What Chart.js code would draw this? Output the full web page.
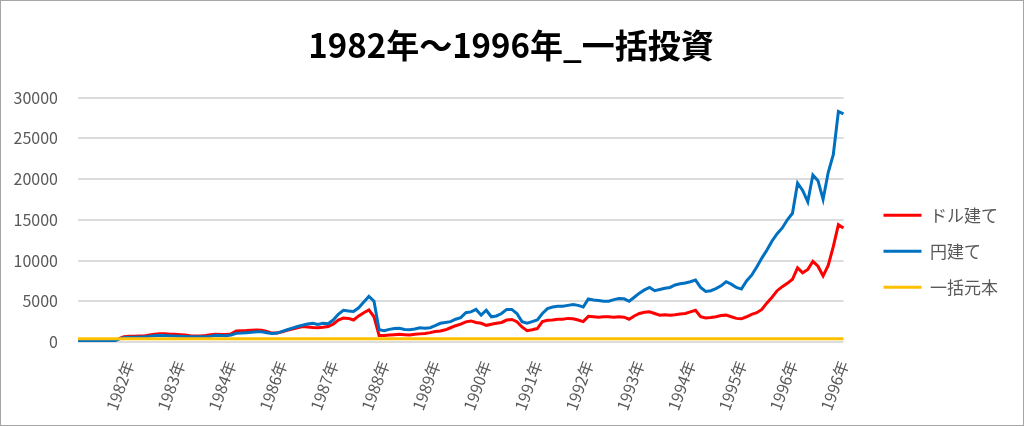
<!DOCTYPE html>
<html lang="ja">
<head>
<meta charset="utf-8">
<title>1982年～1996年_一括投資</title>
<script src="https://cdn.jsdelivr.net/npm/chart.js@4.4.0/dist/chart.umd.min.js"></script>
<style>
    html, body { margin: 0; padding: 0; background: #fff; }
    #wrap { width: 1024px; height: 426px; box-sizing: border-box; border: 1px solid #a6a6a6; }
</style>
</head>
<body>
<div id="wrap"><canvas id="myChart"></canvas></div>
<script>
const TITLE = '1982年～1996年_一括投資';

// year labels shown on the x axis, one every TICK_EVERY points
const yearTicks = ['1982年', '1983年', '1984年', '1986年', '1987年', '1988年', '1989年', '1990年',
    '1991年', '1992年', '1993年', '1994年', '1995年', '1996年', '1996年'];
const TICK_EVERY = 10;

// ドル建て (red)
const dollarValues = [
    null, null, null, null, null, null, null, null, 400, 650,
    700, 720, 740, 750, 850, 950, 1020, 1000, 950, 950,
    900, 850, 780, 740, 750, 800, 880, 950, 930, 920,
    1000, 1360, 1380, 1400, 1450, 1480, 1450, 1300, 1100, 1100,
    1250, 1450, 1600, 1750, 1900, 1850, 1780, 1750, 1800, 1900,
    2200, 2700, 2950, 2900, 2700, 3200, 3600, 3950, 3100, 800,
    800, 850, 900, 950, 900, 850, 950, 1000, 1050, 1150,
    1300, 1360, 1500, 1750, 2000, 2190, 2470, 2590, 2400, 2300,
    2050, 2190, 2300, 2400, 2700, 2770, 2500, 1850, 1400, 1500,
    1650, 2500, 2680, 2700, 2800, 2800, 2900, 2850, 2700, 2500,
    3150, 3100, 3050, 3100, 3100, 3050, 3100, 3050, 2800, 3200,
    3500, 3650, 3700, 3500, 3300, 3350, 3300, 3350, 3450, 3500,
    3700, 3900, 3100, 2950, 3000, 3100, 3250, 3300, 3100, 2900,
    2850, 3100, 3400, 3600, 4000, 4800, 5500, 6300, 6800, 7200,
    7700, 9100, 8500, 8900, 9900, 9300, 8100, 9400, 11700, 14400, 14000
];

// 円建て (blue)
const yenValues = [
    150, 150, 120, 120, 100, 100, 60, 100, 350, 550,
    580, 600, 620, 620, 700, 780, 830, 800, 760, 740,
    700, 680, 650, 650, 640, 660, 720, 830, 800, 780,
    850, 1070, 1100, 1150, 1200, 1270, 1250, 1150, 1050, 1100,
    1300, 1500, 1700, 1900, 2050, 2200, 2300, 2150, 2300, 2250,
    2700, 3400, 3900, 3800, 3750, 4200, 4900, 5600, 5000, 1500,
    1400, 1550, 1650, 1700, 1550, 1500, 1600, 1750, 1700, 1750,
    2000, 2300, 2400, 2500, 2800, 3000, 3600, 3700, 4000, 3300,
    3900, 3100, 3200, 3500, 4000, 4000, 3500, 2500, 2300, 2500,
    2700, 3500, 4100, 4300, 4400, 4400, 4500, 4600, 4500, 4300,
    5300, 5150, 5100, 5000, 5000, 5200, 5350, 5300, 5000, 5500,
    6000, 6400, 6700, 6300, 6450, 6600, 6700, 7000, 7150, 7250,
    7400, 7600, 6700, 6200, 6300, 6550, 6900, 7400, 7100, 6700,
    6500, 7500, 8200, 9200, 10300, 11300, 12400, 13300, 14000, 15000,
    15800, 19500, 18600, 17200, 20500, 19800, 17500, 20800, 23000, 28300, 28000
];

// 一括元本 (orange)
const principalValues = [
    400, 400, 400, 400, 400, 400, 400, 400, 400, 400, 400, 400, 400, 400, 400, 400, 400, 400, 400, 400, 400, 400, 400, 400, 400,
    400, 400, 400, 400, 400, 400, 400, 400, 400, 400, 400, 400, 400, 400, 400, 400, 400, 400, 400, 400, 400, 400, 400, 400, 400,
    400, 400, 400, 400, 400, 400, 400, 400, 400, 400, 400, 400, 400, 400, 400, 400, 400, 400, 400, 400, 400, 400, 400, 400, 400,
    400, 400, 400, 400, 400, 400, 400, 400, 400, 400, 400, 400, 400, 400, 400, 400, 400, 400, 400, 400, 400, 400, 400, 400, 400,
    400, 400, 400, 400, 400, 400, 400, 400, 400, 400, 400, 400, 400, 400, 400, 400, 400, 400, 400, 400, 400, 400, 400, 400, 400,
    400, 400, 400, 400, 400, 400, 400, 400, 400, 400, 400, 400, 400, 400, 400, 400, 400, 400, 400, 400, 400, 400, 400, 400, 400,
    400
];

// category labels: empty except every TICK_EVERY-th point
const labels = yenValues.map((v, i) => (i > 0 && i % TICK_EVERY === 0) ? yearTicks[i / TICK_EVERY - 1] : '');

Chart.defaults.font.family = "'Noto Sans CJK JP', 'Noto Sans', sans-serif";
Chart.defaults.color = '#595959';

const data = {
    labels: labels,
    datasets: [
        { label: 'ドル建て', data: dollarValues, borderColor: '#ff0000', backgroundColor: '#ff0000', borderWidth: 3, order: 2 },
        { label: '円建て', data: yenValues, borderColor: '#0070c0', backgroundColor: '#0070c0', borderWidth: 3, order: 1 },
        { label: '一括元本', data: principalValues, borderColor: '#ffc000', backgroundColor: '#ffc000', borderWidth: 3, order: 0 }
    ]
};

const config = {
    type: 'line',
    data: data,
    options: {
        responsive: true,
        maintainAspectRatio: false,
        animation: false,
        layout: { padding: { left: 13, right: 15, top: 0, bottom: 4 } },
        elements: {
            point: { radius: 0 },
            line: { tension: 0 }
        },
        plugins: {
            title: {
                display: true,
                text: TITLE,
                color: '#000',
                font: { size: 33, weight: 'bold' },
                padding: { top: 25, bottom: 32 }
            },
            legend: {
                position: 'right',
                title: { display: true, text: ' ', font: { size: 12 }, padding: { top: 66, bottom: 0 } },
                labels: {
                    usePointStyle: true,
                    pointStyle: 'line',
                    pointStyleWidth: 38,
                    padding: 19,
                    color: '#595959',
                    font: { size: 17 },
                    sort: (a, b) => a.datasetIndex - b.datasetIndex
                }
            },
            tooltip: { enabled: false }
        },
        scales: {
            x: {
                grid: { display: false },
                border: { display: false },
                ticks: { autoSkip: false, minRotation: 70, maxRotation: 70, padding: 8, font: { size: 16 } },
                afterFit: (scale) => { scale.paddingLeft = 0; }
            },
            y: {
                min: 0,
                max: 30000,
                grid: { color: '#dcdcdc', lineWidth: 2, drawTicks: false },
                border: { display: false },
                ticks: { stepSize: 5000, padding: 20, font: { size: 16 }, callback: (value) => String(value) },
                afterFit: (scale) => { scale.width = 64; }
            },
            // empty strip between the plot and the legend
            yGap: {
                axis: 'y',
                position: 'right',
                grid: { display: false },
                border: { display: false },
                ticks: { display: false },
                afterFit: (scale) => { scale.width = 21; }
            }
        }
    }
};

const myChart = new Chart(document.getElementById('myChart'), config);
</script>
</body>
</html>
